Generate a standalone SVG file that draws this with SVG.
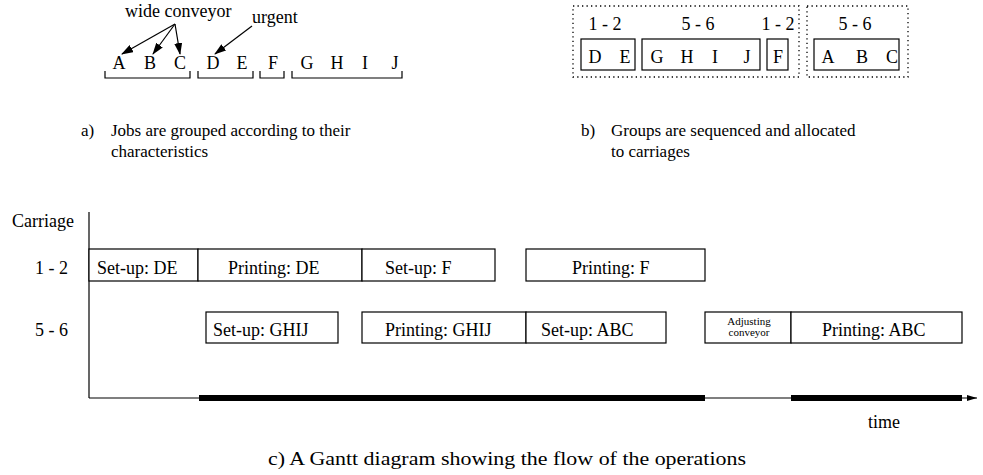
<svg xmlns="http://www.w3.org/2000/svg" width="983" height="475" viewBox="0 0 983 475" font-family="'Liberation Serif', 'Times New Roman', serif">
<defs>
<marker id="ah" markerWidth="12" markerHeight="8" refX="11" refY="4" orient="auto" markerUnits="userSpaceOnUse">
<path d="M0,0 L12,4 L0,8 Z" fill="#000"/>
</marker>
<marker id="ah2" markerWidth="10" markerHeight="6" refX="10" refY="3" orient="auto" markerUnits="userSpaceOnUse">
<path d="M0,0 L10,3 L0,6 Z" fill="#000"/>
</marker>
<style>
text{font-family:'Liberation Serif','Times New Roman',serif;font-size:18px;fill:#000}
.c{text-anchor:middle}
.cap{font-size:17px}
.box{fill:#fff;stroke:#000;stroke-width:1.2}
.dot{fill:none;stroke:#000;stroke-width:1.3;stroke-dasharray:1.3 3.2}
.ln{fill:none;stroke:#000;stroke-width:1.2}
.sm{font-size:11px}
</style>
</defs>

<g id="connectors">
<line class="ln" x1="175" y1="24" x2="122" y2="54" marker-end="url(#ah)"/>
<line class="ln" x1="175" y1="24" x2="153" y2="54" marker-end="url(#ah)"/>
<line class="ln" x1="175" y1="24" x2="180" y2="54" marker-end="url(#ah)"/>
<line class="ln" x1="252" y1="26" x2="215" y2="54" marker-end="url(#ah)"/>
</g>

<g id="part-a">
<text x="125" y="17">wide conveyor</text>
<text x="252" y="23">urgent</text>
<text class="c" x="119" y="69">A</text>
<text class="c" x="150" y="69">B</text>
<text class="c" x="180" y="69">C</text>
<text class="c" x="213" y="69">D</text>
<text class="c" x="242" y="69">E</text>
<text class="c" x="273" y="69">F</text>
<text class="c" x="307" y="69">G</text>
<text class="c" x="337" y="69">H</text>
<text class="c" x="365" y="69">I</text>
<text class="c" x="395" y="69">J</text>
<path class="ln" d="M105,71 V78 H190 V71 M198,71 V78 H253 V71 M260,71 V78 H284 V71 M292,71 V78 H402 V71"/>
<text class="cap" x="81" y="136">a)</text>
<text class="cap" x="111" y="136">Jobs are grouped according to their</text>
<text class="cap" x="111" y="157">characteristics</text>
</g>

<g id="part-b">
<rect class="dot" x="573" y="6" width="226" height="71"/>
<rect class="dot" x="807" y="6" width="101" height="71"/>
<text class="c" x="605" y="30">1 - 2</text>
<text class="c" x="698" y="30">5 - 6</text>
<text class="c" x="778" y="30">1 - 2</text>
<text class="c" x="855" y="30">5 - 6</text>
<rect class="box" x="581" y="39" width="54" height="31"/>
<rect class="box" x="642" y="39" width="118" height="31"/>
<rect class="box" x="767" y="39" width="21" height="31"/>
<rect class="box" x="814" y="39" width="85" height="31"/>
<text class="c" x="595" y="63">D</text>
<text class="c" x="625" y="63">E</text>
<text class="c" x="657" y="63">G</text>
<text class="c" x="687" y="63">H</text>
<text class="c" x="715" y="63">I</text>
<text class="c" x="747" y="63">J</text>
<text class="c" x="778" y="63">F</text>
<text class="c" x="828" y="63">A</text>
<text class="c" x="862" y="63">B</text>
<text class="c" x="892" y="63">C</text>
<text class="cap" x="581" y="136">b)</text>
<text class="cap" x="611" y="136">Groups are sequenced and allocated</text>
<text class="cap" x="611" y="157">to carriages</text>
</g>

<g id="gantt-axes">
<line class="ln" x1="89" y1="212" x2="89" y2="398"/>
<line class="ln" x1="89" y1="398" x2="977" y2="398" marker-end="url(#ah2)"/>
<line x1="199" y1="398" x2="705" y2="398" stroke="#000" stroke-width="6"/>
<line x1="791" y1="398" x2="962" y2="398" stroke="#000" stroke-width="6"/>
<text x="12" y="227">Carriage</text>
<text x="35" y="274">1 - 2</text>
<text x="35" y="336">5 - 6</text>
<text class="c" x="884" y="428">time</text>
<text x="268" y="465" font-size="20" textLength="478" lengthAdjust="spacingAndGlyphs">c) A Gantt diagram showing the flow of the operations</text>
</g>

<g id="setup-de"><rect class="box" x="89" y="249" width="109" height="32"/><text x="97" y="274">Set-up: DE</text></g>
<g id="printing-de"><rect class="box" x="198" y="249" width="164" height="32"/><text x="228" y="274">Printing: DE</text></g>
<g id="setup-f"><rect class="box" x="362" y="249" width="133" height="32"/><text x="385" y="274">Set-up: F</text></g>
<g id="printing-f"><rect class="box" x="526" y="249" width="179" height="32"/><text x="572" y="274">Printing: F</text></g>

<g id="setup-ghij"><rect class="box" x="206" y="312" width="132" height="31"/><text x="213" y="336">Set-up: GHIJ</text></g>
<g id="printing-ghij"><rect class="box" x="362" y="312" width="164" height="31"/><text x="385" y="336">Printing: GHIJ</text></g>
<g id="setup-abc"><rect class="box" x="526" y="312" width="140" height="31"/><text x="541" y="336">Set-up: ABC</text></g>
<g id="adjusting"><rect class="box" x="705" y="312" width="86" height="31"/><text class="c sm" x="749" y="325">Adjusting</text><text class="c sm" x="749" y="336">conveyor</text></g>
<g id="printing-abc"><rect class="box" x="791" y="312" width="171" height="31"/><text x="822" y="336">Printing: ABC</text></g>
</svg>
